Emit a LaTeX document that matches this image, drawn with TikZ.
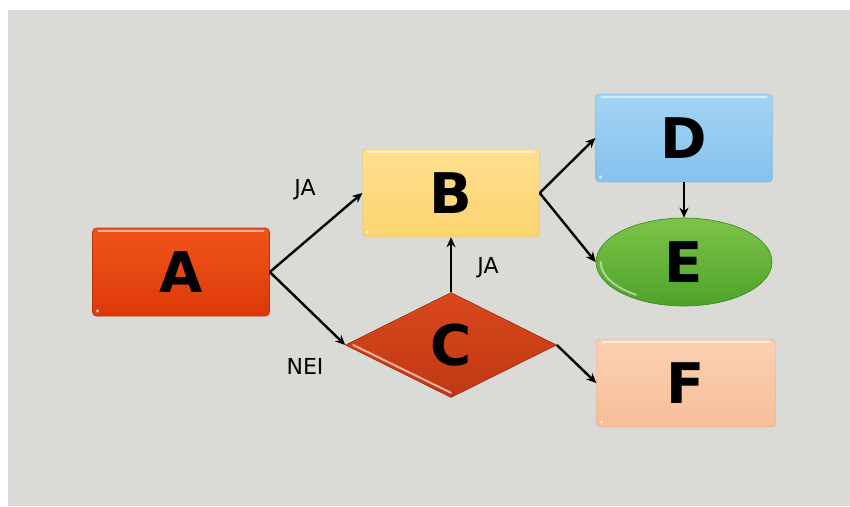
\documentclass[tikz,border=0pt]{standalone}
\usepackage{fontspec}
\setmainfont{DejaVu Sans}
\usetikzlibrary{shapes.geometric,arrows.meta}

\definecolor{canvas}{HTML}{DADAD6}
\definecolor{aTop}{HTML}{F2531A}\definecolor{aBot}{HTML}{DB3A08}
\definecolor{bTop}{HTML}{FFE08E}\definecolor{bBot}{HTML}{FCD370}
\definecolor{cTop}{HTML}{D9481C}\definecolor{cBot}{HTML}{C03814}
\definecolor{dTop}{HTML}{A2D4F4}\definecolor{dBot}{HTML}{86C2EC}
\definecolor{eTop}{HTML}{7CC448}\definecolor{eBot}{HTML}{4FA22A}
\definecolor{fTop}{HTML}{FBD0B2}\definecolor{fBot}{HTML}{F7BE9A}

\tikzset{
  block/.style={rectangle, rounded corners=4pt, inner sep=0pt,
    minimum width=177pt, minimum height=88pt,
    font=\fontsize{56}{56}\selectfont\bfseries, text=black,
    path picture={
      \draw[white, opacity=0.55, line width=2pt, line cap=round]
        ([xshift=6pt,yshift=-3pt]path picture bounding box.north west) --
        ([xshift=-6pt,yshift=-3pt]path picture bounding box.north east);
      \fill[white, opacity=0.8]
        ([xshift=5pt,yshift=5pt]path picture bounding box.south west) circle (1.6pt);
    }},
  link/.style={-{Stealth[length=10pt,width=9pt]}, line width=2.4pt, black},
  tag/.style={font=\fontsize{22}{22}\selectfont, text=black},
}

\begin{document}
\begin{tikzpicture}[x=1pt,y=-1pt]
  % page and grey canvas
  \fill[white] (0,0) rectangle (850,506);
  \fill[canvas] (8,10) rectangle (850,506);
  \useasboundingbox (0,0) rectangle (850,506);

  \node[block, top color=aTop, bottom color=aBot, draw=aBot!85!black, line width=0.6pt] (A) at (181,272) {A};
  \node[block, top color=bTop, bottom color=bBot, draw=bBot!90!black, line width=0.4pt] (B) at (451,193) {B};
  \node[block, top color=dTop, bottom color=dBot, draw=dBot!90!black, line width=0.4pt] (D) at (684,138) {D};
  \node[block, top color=fTop, bottom color=fBot, draw=fBot!90!black, line width=0.4pt, minimum width=179pt] (F) at (686,383) {F};
  \node[ellipse, inner sep=0pt, minimum width=176pt, minimum height=88pt,
        top color=eTop, bottom color=eBot, draw=eBot!80!black, line width=0.6pt,
        font=\fontsize{56}{56}\selectfont\bfseries] (E) at (684,262) {E};
  \node[diamond, inner sep=0pt, aspect=2, minimum width=211pt, minimum height=105pt,
        top color=cTop, bottom color=cBot, draw=cBot!80!black, line width=0.6pt,
        font=\fontsize{56}{56}\selectfont\bfseries] (C) at (451,345) {C};

  % glossy rims on the diamond and the ellipse
  \draw[white, opacity=0.6, line width=2pt, line cap=round]
    ([xshift=8pt]C.west) -- ([yshift=5pt]C.south);
  \draw[white, opacity=0.5, line width=2pt, line cap=round]
    ([xshift=5pt]E.west) arc[start angle=180, end angle=235, x radius=83pt, y radius=40pt];

  % connectors
  \draw[link] (A.east) -- (B.west);
  \draw[link] (A.east) -- (C.west);
  \draw[link] (C.north) -- (B.south);
  \draw[link] (C.east) -- (F.west);
  \draw[link] (B.east) -- (D.west);
  \draw[link] (B.east) -- (E.west);
  \draw[link] (D.south) -- (E.north);

  % branch labels
  \node[tag] (ja1) at (305,190) {JA};
  \node[tag] (ja2) at (488,268) {JA};
  \node[tag] (nei) at (305,366) {NEI};
\end{tikzpicture}
\end{document}
